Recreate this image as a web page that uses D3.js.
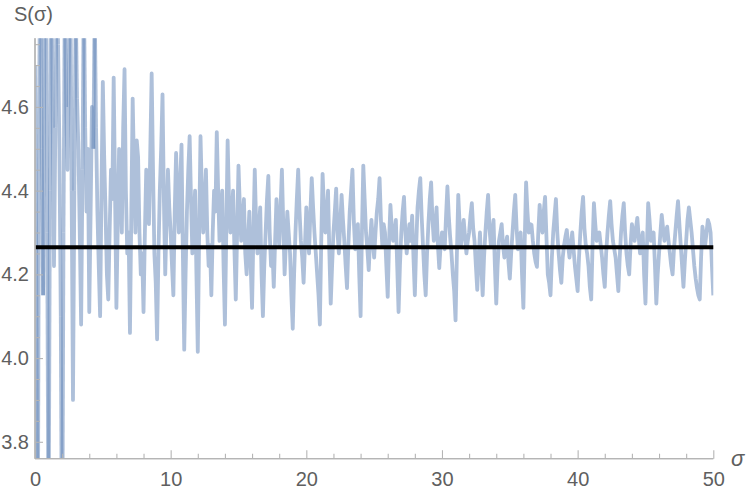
<!DOCTYPE html>
<html>
<head>
<meta charset="utf-8">
<script src="https://cdn.jsdelivr.net/npm/d3@7/dist/d3.min.js"></script>
<style>
  html, body { margin: 0; padding: 0; background: #ffffff; }
  svg { display: block; }
  text { font-family: "Liberation Sans", Arial, sans-serif; }
</style>
</head>
<body>
<svg id="chart" width="747" height="494"></svg>
<script>
// ---- data ----
const sigmaStart = 0;
const sigmaStep = 0.1;
const sValues = [
  4.70, 4.20, 3.40, 4.60, 5.00, 4.50, 4.15, 4.80, 5.10, 4.30, 3.50, 4.40, 4.95, 4.60, 4.22, 4.55, 4.90, 4.75, 4.50, 4.10,
  3.40, 4.30, 4.90, 4.60, 4.45, 4.70, 4.95, 4.40, 3.90, 4.40, 4.85, 4.62, 4.50, 4.30, 4.08, 4.45, 4.90, 4.55, 4.35, 4.50,
  4.11, 4.35, 4.60, 4.50, 4.85, 4.55, 4.35, 4.22, 4.10, 4.40, 4.66, 4.48, 4.35, 4.20, 4.14, 4.30, 4.45, 4.38, 4.67, 4.40,
  4.12, 4.32, 4.50, 4.42, 4.30, 4.55, 4.69, 4.40, 4.25, 4.30, 4.06, 4.35, 4.62, 4.45, 4.30, 4.52, 4.48, 4.30, 4.20, 4.25,
  4.11, 4.30, 4.45, 4.38, 4.32, 4.50, 4.68, 4.45, 4.25, 4.18, 4.045, 4.25, 4.40, 4.50, 4.63, 4.38, 4.20, 4.33, 4.45, 4.36,
  4.30, 4.22, 4.15, 4.35, 4.49, 4.38, 4.30, 4.42, 4.51, 4.25, 4.02, 4.20, 4.35, 4.45, 4.53, 4.38, 4.25, 4.33, 4.40, 4.20,
  4.015, 4.30, 4.53, 4.40, 4.30, 4.36, 4.45, 4.30, 4.22, 4.27, 4.15, 4.30, 4.40, 4.35, 4.54, 4.40, 4.28, 4.34, 4.40, 4.22,
  4.08, 4.30, 4.52, 4.38, 4.30, 4.34, 4.40, 4.26, 4.14, 4.30, 4.46, 4.36, 4.28, 4.33, 4.38, 4.25, 4.20, 4.28, 4.35, 4.22,
  4.12, 4.30, 4.45, 4.32, 4.25, 4.31, 4.36, 4.20, 4.10, 4.22, 4.30, 4.38, 4.435, 4.30, 4.22, 4.26, 4.17, 4.28, 4.38, 4.31,
  4.27, 4.36, 4.45, 4.32, 4.20, 4.28, 4.35, 4.30, 4.25, 4.15, 4.07, 4.20, 4.30, 4.38, 4.45, 4.35, 4.28, 4.24, 4.18, 4.27,
  4.36, 4.30, 4.25, 4.35, 4.43, 4.36, 4.30, 4.25, 4.20, 4.15, 4.08, 4.28, 4.44, 4.36, 4.30, 4.34, 4.40, 4.25, 4.13, 4.22,
  4.30, 4.35, 4.405, 4.30, 4.25, 4.32, 4.39, 4.33, 4.28, 4.22, 4.167, 4.27, 4.35, 4.40, 4.45, 4.33, 4.26, 4.29, 4.32, 4.20,
  4.10, 4.30, 4.46, 4.38, 4.30, 4.26, 4.21, 4.28, 4.33, 4.28, 4.24, 4.30, 4.35, 4.38, 4.43, 4.33, 4.27, 4.32, 4.30, 4.22,
  4.146, 4.28, 4.366, 4.31, 4.28, 4.30, 4.33, 4.22, 4.11, 4.22, 4.30, 4.35, 4.385, 4.30, 4.25, 4.29, 4.32, 4.28, 4.34, 4.24,
  4.15, 4.27, 4.36, 4.40, 4.43, 4.34, 4.27, 4.20, 4.15, 4.25, 4.32, 4.38, 4.42, 4.33, 4.28, 4.31, 4.36, 4.27, 4.215, 4.27,
  4.30, 4.27, 4.26, 4.34, 4.41, 4.34, 4.29, 4.25, 4.20, 4.16, 4.09, 4.25, 4.39, 4.32, 4.27, 4.30, 4.33, 4.29, 4.25, 4.28,
  4.30, 4.34, 4.37, 4.31, 4.28, 4.22, 4.163, 4.24, 4.30, 4.22, 4.15, 4.24, 4.30, 4.35, 4.39, 4.31, 4.27, 4.30, 4.33, 4.22,
  4.13, 4.22, 4.28, 4.30, 4.32, 4.27, 4.24, 4.27, 4.29, 4.23, 4.19, 4.25, 4.30, 4.35, 4.39, 4.31, 4.26, 4.29, 4.30, 4.20,
  4.12, 4.28, 4.42, 4.35, 4.30, 4.32, 4.318, 4.28, 4.25, 4.23, 4.218, 4.30, 4.366, 4.32, 4.30, 4.35, 4.385, 4.29, 4.20, 4.18,
  4.15, 4.24, 4.30, 4.34, 4.38, 4.30, 4.25, 4.21, 4.18, 4.24, 4.27, 4.29, 4.306, 4.27, 4.24, 4.27, 4.30, 4.26, 4.22, 4.19,
  4.16, 4.24, 4.30, 4.35, 4.385, 4.31, 4.27, 4.25, 4.22, 4.17, 4.14, 4.27, 4.37, 4.32, 4.28, 4.29, 4.30, 4.27, 4.24, 4.20,
  4.17, 4.25, 4.30, 4.34, 4.375, 4.32, 4.28, 4.26, 4.24, 4.20, 4.16, 4.24, 4.30, 4.34, 4.37, 4.30, 4.25, 4.22, 4.20, 4.27,
  4.32, 4.30, 4.28, 4.31, 4.335, 4.29, 4.25, 4.28, 4.30, 4.20, 4.13, 4.26, 4.37, 4.33, 4.28, 4.29, 4.30, 4.22, 4.13, 4.20,
  4.25, 4.30, 4.342, 4.31, 4.28, 4.30, 4.314, 4.28, 4.25, 4.22, 4.20, 4.26, 4.30, 4.34, 4.375, 4.32, 4.27, 4.22, 4.17, 4.23,
  4.28, 4.33, 4.36, 4.33, 4.30, 4.26, 4.22, 4.19, 4.167, 4.15, 4.14, 4.24, 4.314, 4.29, 4.27, 4.30, 4.33, 4.32, 4.30, 4.22,
  4.15
];
const referenceLevel = [4.2645];
const xTicksMajor = [0, 10, 20, 30, 40, 50];
const xTicksMinor = [2, 4, 6, 8, 12, 14, 16, 18, 22, 24, 26, 28, 32, 34, 36, 38, 42, 44, 46, 48];
const yTicksMajor = [3.8, 4.0, 4.2, 4.4, 4.6];
const yTicksMinor = [3.85, 3.9, 3.95, 4.05, 4.1, 4.15, 4.25, 4.3, 4.35, 4.45, 4.5, 4.55, 4.65, 4.7, 4.75];
const xDomain = [0, 50];
const yDomain = [3.7596, 4.764];
const yLabel = "S(σ)";
const xLabel = "σ";

// ---- layout ----
const svg = d3.select("#chart");
const mLeft = 35, mRight = 713.3, mTop = 38.3, mBottom = 458.7;
const x = d3.scaleLinear().domain(xDomain).range([mLeft, mRight]);
const y = d3.scaleLinear().domain(yDomain).range([mBottom, mTop]);

const axisColor = "#b5b5b5";
const labelColor = "#5f5f5f";

svg.append("rect").attr("width", 747).attr("height", 494).attr("fill", "#fff");

svg.append("defs").append("clipPath").attr("id", "plotclip")
  .append("rect").attr("x", mLeft).attr("y", mTop)
  .attr("width", mRight - mLeft).attr("height", mBottom - mTop);

// ---- data line (split where it leaves the plot range, as the original does) ----
const pts = sValues.map((v, i) => [sigmaStart + i * sigmaStep, v]);
const inRange = v => v >= yDomain[0] && v <= yDomain[1];
const pieces = [];
let cur = [pts[0]];
for (let i = 1; i < pts.length; i++) {
  const a = pts[i - 1], b = pts[i];
  if (!inRange(a[1]) || !inRange(b[1])) {
    if (cur.length > 1) pieces.push(cur);
    pieces.push([a, b]);
    cur = [b];
  } else {
    cur.push(b);
  }
}
if (cur.length > 1) pieces.push(cur);

const line = d3.line().x(d => x(d[0])).y(d => y(d[1]));
const g = svg.append("g").attr("clip-path", "url(#plotclip)");
g.selectAll("path.series").data(pieces).join("path")
  .attr("class", "series")
  .attr("d", line)
  .attr("fill", "none")
  .attr("stroke", "#5e81b5")
  .attr("stroke-opacity", 0.5)
  .attr("stroke-width", 3.8)
  .attr("stroke-linejoin", "round");

// ---- reference level ----
svg.selectAll("line.ref").data(referenceLevel).join("line")
  .attr("class", "ref")
  .attr("x1", x(xDomain[0])).attr("x2", x(xDomain[1]))
  .attr("y1", d => y(d)).attr("y2", d => y(d))
  .attr("stroke", "#000").attr("stroke-width", 4);

// ---- axes (ticks point inwards) ----
const xAxisMajor = d3.axisBottom(x).tickValues(xTicksMajor).tickSize(-8.5).tickFormat(d3.format("d")).tickPadding(13);
const xAxisMinor = d3.axisBottom(x).tickValues(xTicksMinor).tickSize(-5).tickFormat("");
const yAxisMajor = d3.axisLeft(y).tickValues(yTicksMajor).tickSize(-8).tickFormat(d3.format(".1f")).tickPadding(6);
const yAxisMinor = d3.axisLeft(y).tickValues(yTicksMinor).tickSize(-5).tickFormat("");

function styleAxis(sel) {
  sel.select(".domain").attr("stroke", axisColor).attr("stroke-width", 1.3);
  sel.selectAll(".tick line").attr("stroke", axisColor).attr("stroke-width", 1.1);
  sel.selectAll(".tick text").attr("fill", labelColor)
    .style("font-family", "'Liberation Sans', Arial, sans-serif").style("font-size", "20px");
}
const gx1 = svg.append("g").attr("transform", `translate(0,${mBottom})`).call(xAxisMinor);
styleAxis(gx1);
const gx2 = svg.append("g").attr("transform", `translate(0,${mBottom})`).call(xAxisMajor);
styleAxis(gx2);
const gy1 = svg.append("g").attr("transform", `translate(${mLeft},0)`).call(yAxisMinor);
styleAxis(gy1);
const gy2 = svg.append("g").attr("transform", `translate(${mLeft},0)`).call(yAxisMajor);
styleAxis(gy2);
gx1.select(".domain").attr("d", `M${mLeft},0H${mRight}`);
gx2.select(".domain").attr("d", `M${mLeft},0H${mRight}`);
gy1.select(".domain").attr("d", `M0,${mBottom}V${mTop}`);
gy2.select(".domain").attr("d", `M0,${mBottom}V${mTop}`);

// ---- axis labels ----
svg.append("text").attr("x", 14).attr("y", 21)
  .attr("fill", labelColor).style("font-size", "20px")
  .text(yLabel);
svg.append("text").attr("x", 731).attr("y", 466)
  .attr("fill", labelColor).style("font-size", "22px").style("font-style", "italic")
  .text(xLabel);
</script>
</body>
</html>
